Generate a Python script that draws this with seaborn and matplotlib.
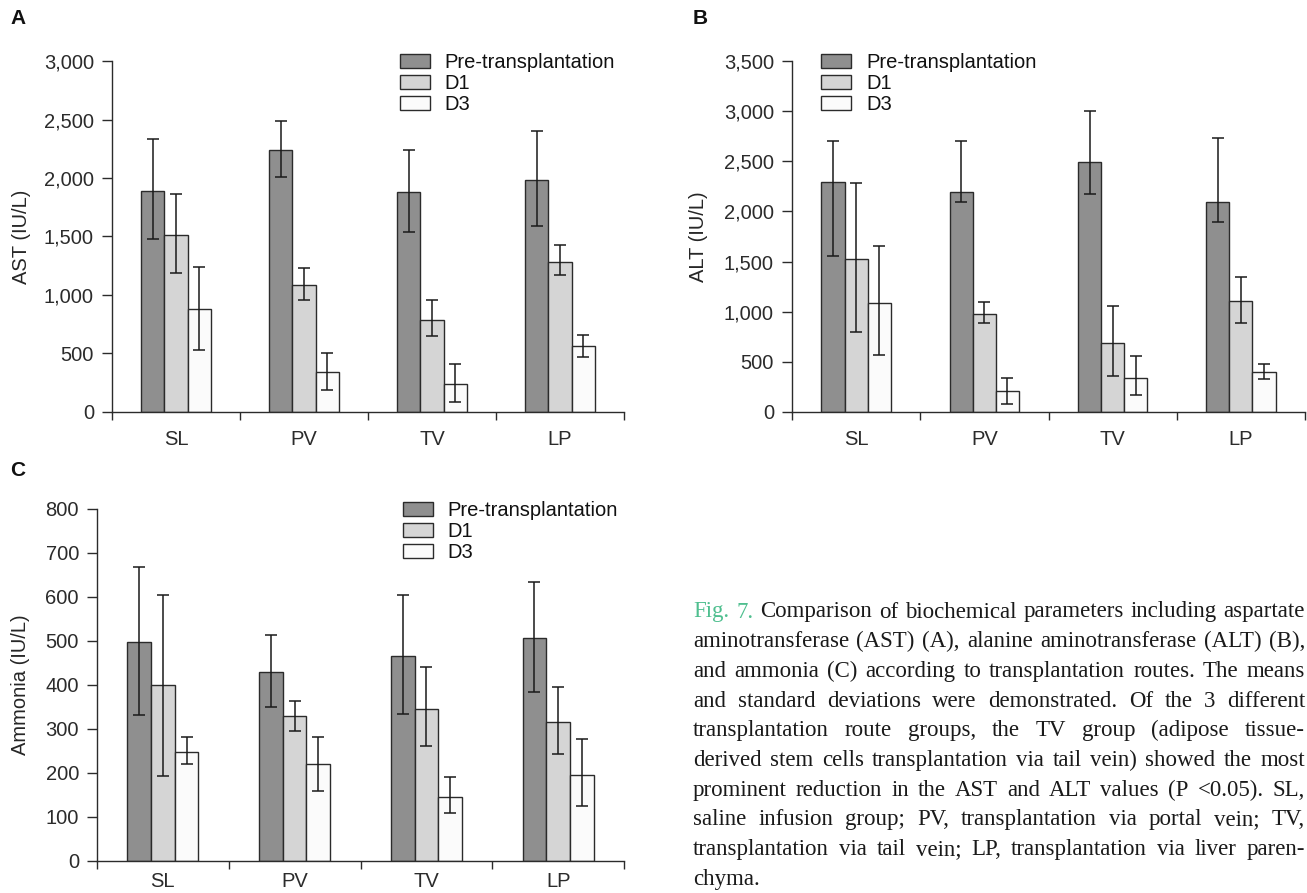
import numpy as np
import pandas as pd
import matplotlib
matplotlib.use("Agg")
import matplotlib.pyplot as plt
from matplotlib.ticker import FuncFormatter
import seaborn as sns

# ── Data ──────────────────────────────────────────────────────────────────────

routes = ["SL", "PV", "TV", "LP"]
timepoints = ["Pre-transplantation", "D1", "D3"]

# rows follow timepoints, columns follow routes
ast_mean = [[1885, 2240, 1882, 1987],
            [1515, 1084, 789, 1286],
            [884, 341, 238, 568]]
ast_err_lo = [[410, 228, 341, 400],
              [325, 127, 139, 114],
              [352, 151, 153, 100]]
ast_err_hi = [[450, 249, 358, 417],
              [345, 148, 170, 139],
              [352, 167, 168, 91]]

alt_mean = [[2291, 2192, 2497, 2096],
            [1528, 980, 691, 1103],
            [1083, 209, 342, 399]]
alt_err_lo = [[740, 96, 328, 206],
              [734, 93, 336, 213],
              [512, 126, 176, 67]]
alt_err_hi = [[416, 515, 509, 637],
              [754, 116, 365, 242],
              [568, 130, 219, 83]]

nh3_mean = [[497, 430, 466, 507],
            [399, 329, 346, 317],
            [248, 220, 146, 196]]
nh3_err_lo = [[166, 80, 133, 123],
              [206, 34, 84, 74],
              [27, 60, 37, 70]]
nh3_err_hi = [[171, 83, 138, 127],
              [205, 35, 94, 79],
              [34, 62, 46, 81]]

caption_lines = [
    "Fig. 7. Comparison of biochemical parameters including aspartate",
    "aminotransferase (AST) (A), alanine aminotransferase (ALT) (B),",
    "and ammonia (C) according to transplantation routes. The means",
    "and standard deviations were demonstrated. Of the 3 different",
    "transplantation route groups, the TV group (adipose tissue-",
    "derived stem cells transplantation via tail vein) showed the most",
    "prominent reduction in the AST and ALT values (P <0.05). SL,",
    "saline infusion group; PV, transplantation via portal vein; TV,",
    "transplantation via tail vein; LP, transplantation via liver paren-",
    "chyma.",
]

# ── Style ─────────────────────────────────────────────────────────────────────

BAR_COLORS = ["#8f8f8f", "#d5d5d5", "#fbfbfb"]
EDGE = "#2b2b2b"
FIG_W, FIG_H = 1307, 893
FS = 14.5

sns.set_style("ticks")
plt.rcParams["font.family"] = ["Liberation Sans", "DejaVu Sans"]
plt.rcParams["axes.edgecolor"] = EDGE
plt.rcParams["xtick.color"] = EDGE
plt.rcParams["ytick.color"] = EDGE
plt.rcParams["text.color"] = "#111111"

fig = plt.figure(figsize=(FIG_W / 100, FIG_H / 100), dpi=100)


def px_axes(left, top, right, bottom):
    """Axes from pixel box (origin top-left)."""
    return fig.add_axes([left / FIG_W, 1 - bottom / FIG_H,
                         (right - left) / FIG_W, (bottom - top) / FIG_H])


def draw_panel(ax, means, err_lo, err_hi, ymax, ystep, ylabel,
               legend_x, ylabel_x, xpad=13):
    df = pd.DataFrame({
        "route": routes * len(timepoints),
        "time": np.repeat(timepoints, len(routes)),
        "value": np.concatenate(means),
    })
    sns.barplot(data=df, x="route", y="value", hue="time",
                order=routes, hue_order=timepoints, palette=BAR_COLORS,
                saturation=1, width=0.54, edgecolor=EDGE, linewidth=1.0,
                errorbar=None, ax=ax)

    # precomputed mean ± SD whiskers on top of each bar
    for cont, lo, hi in zip(ax.containers, err_lo, err_hi):
        xs = [p.get_x() + p.get_width() / 2 for p in cont]
        ys = [p.get_height() for p in cont]
        ax.errorbar(xs, ys, yerr=[lo, hi], fmt="none", ecolor="#1a1a1a",
                    elinewidth=1.1, capsize=4.5, capthick=1.1, zorder=5)

    ax.set_xlim(-0.5, len(routes) - 0.5)
    ax.set_xticks(range(len(routes)))
    ax.set_xticklabels(routes)
    ax.set_xticks(np.arange(-0.5, len(routes), 1), minor=True)
    ax.tick_params(axis="x", which="major", length=0, pad=xpad, labelsize=FS)
    ax.tick_params(axis="x", which="minor", length=6, width=1)

    ax.set_ylim(0, ymax)
    ax.set_yticks(np.arange(0, ymax + 1, ystep))
    ax.yaxis.set_major_formatter(FuncFormatter(lambda v, _: f"{v:,.0f}"))
    ax.tick_params(axis="y", length=7, width=1, pad=6, labelsize=FS)

    ax.set_xlabel("")
    ax.set_ylabel(ylabel, fontsize=FS)
    ax.yaxis.set_label_coords(ylabel_x, 0.5)
    sns.despine(ax=ax)
    for s in ("left", "bottom"):
        ax.spines[s].set_linewidth(1.0)

    ax.legend(loc="upper left", bbox_to_anchor=(legend_x, 1.022),
              frameon=False, borderpad=0, borderaxespad=0, fontsize=FS,
              handlelength=1.5, handleheight=0.66, handletextpad=0.72,
              labelspacing=0.1)


ax_a = px_axes(112, 61, 624, 412)
draw_panel(ax_a, ast_mean, ast_err_lo, ast_err_hi, 3000, 500,
           "AST (IU/L)", 0.5625, -0.158)

ax_b = px_axes(792, 61, 1305, 412)
draw_panel(ax_b, alt_mean, alt_err_lo, alt_err_hi, 3500, 500,
           "ALT (IU/L)", 0.057, -0.163)

ax_c = px_axes(97, 509, 624, 861)
draw_panel(ax_c, nh3_mean, nh3_err_lo, nh3_err_hi, 800, 100,
           "Ammonia (IU/L)", 0.58, -0.127, xpad=8)

for letter, (x, y) in zip("ABC", [(18, 18), (700, 18), (18, 470)]):
    fig.text(x / FIG_W, 1 - y / FIG_H, letter, fontsize=15,
             fontweight="bold", ha="center", va="center")

# ── Caption, justified word by word ───────────────────────────────────────────

renderer = fig.canvas.get_renderer()
CAP_X0, CAP_X1 = 693, 1305
CAP_Y0, CAP_DY = 612, 29.7
cap_font = dict(family=["Liberation Serif", "DejaVu Serif"], fontsize=16.5)

for i, line in enumerate(caption_lines):
    y = 1 - (CAP_Y0 + i * CAP_DY) / FIG_H
    words = line.split(" ")
    texts = []
    for j, w in enumerate(words):
        colour = "#4fbf8f" if (i == 0 and j < 2) else "#1a1a1a"
        texts.append(fig.text(0, y, w, color=colour, va="center",
                              ha="left", **cap_font))
    widths = [t.get_window_extent(renderer).width for t in texts]
    last = i == len(caption_lines) - 1
    if len(words) > 1 and not last:
        gap = (CAP_X1 - CAP_X0 - sum(widths)) / (len(words) - 1)
    else:
        gap = 5
    x = CAP_X0
    for t, w in zip(texts, widths):
        t.set_x(x / FIG_W)
        x += w + gap

fig.savefig("out.png", dpi=100)
